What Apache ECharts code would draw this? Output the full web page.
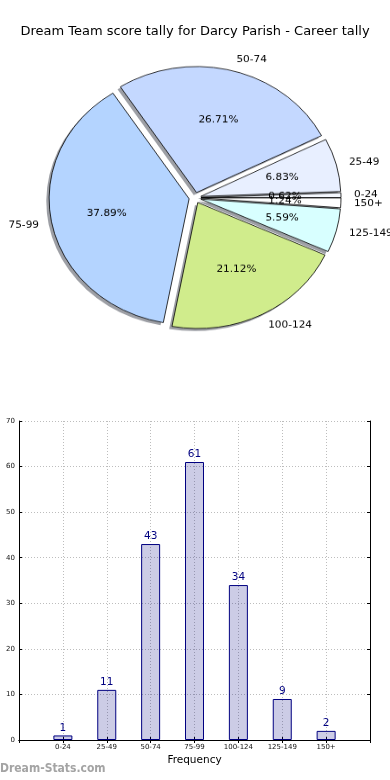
<!DOCTYPE html>
<html><head><meta charset="utf-8">
<script src="https://cdn.jsdelivr.net/npm/echarts@6.0.0/dist/echarts.min.js"></script>
<style>
html,body{margin:0;padding:0;background:#fff;}
#main{position:absolute;left:0;top:0;width:390px;height:780px;}
#pie{position:absolute;left:0;top:0;width:390px;height:440px;transform:scaleY(0.9);transform-origin:0 0;}
</style></head><body>
<div id="main"></div><div id="pie"></div>
<script>
const titleText = 'Dream Team score tally for Darcy Parish - Career tally';
const categories = ['0-24', '25-49', '50-74', '75-99', '100-124', '125-149', '150+'];
const frequencies = [1, 11, 43, 61, 34, 9, 2];
const sliceColors = ['#f6f9ff', '#e8efff', '#c4d8ff', '#b4d4ff', '#d0ec8c', '#d8ffff', '#ffffff'];
const axisName = 'Frequency';
const watermark = 'Dream-Stats.com';

const FONT = 'DejaVu Sans';
const total = frequencies.reduce((a, b) => a + b, 0);

// ---------- bar chart + title ----------
const main = echarts.init(document.getElementById('main'), null, {renderer: 'canvas'});
const xCats = [''].concat(categories, ['']);
const barData = ['-'].concat(frequencies, ['-']);
main.setOption({
  backgroundColor: '#fff',
  animation: false,
  title: {text: titleText, left: 'center', top: 20,
    textStyle: {fontFamily: FONT, fontSize: 13, fontWeight: 'normal', color: '#000'}},
  grid: {left: 19, top: 421, width: 351, height: 319, containLabel: false},
  xAxis: [{
    type: 'category', data: xCats, boundaryGap: false, position: 'bottom',
    axisLine: {lineStyle: {color: '#000', width: 1}},
    axisTick: {inside: true, length: 3, interval: 0, lineStyle: {color: '#000'}},
    axisLabel: {interval: 0, fontSize: 7, color: '#111', margin: 4, fontFamily: FONT},
    splitLine: {show: true, interval: 0, lineStyle: {color: '#bdbdbd', width: 1, type: [1, 2]}},
    name: axisName, nameLocation: 'middle', nameGap: 15,
    nameTextStyle: {fontSize: 10.5, color: '#000', fontFamily: FONT}
  }, {
    type: 'category', data: xCats, boundaryGap: false, position: 'top',
    axisLine: {lineStyle: {color: '#000', width: 1}},
    axisTick: {inside: true, length: 3, interval: 0, lineStyle: {color: '#000'}},
    axisLabel: {show: false}, splitLine: {show: false}
  }],
  yAxis: [{
    type: 'value', min: 0, max: 70, interval: 10, position: 'left',
    axisLine: {show: true, lineStyle: {color: '#000', width: 1}},
    axisTick: {show: true, inside: true, length: 3, lineStyle: {color: '#000'}},
    axisLabel: {fontSize: 7, color: '#111', margin: 4, fontFamily: FONT},
    splitLine: {show: true, lineStyle: {color: '#bdbdbd', width: 1, type: [1, 2]}}
  }, {
    type: 'value', min: 0, max: 70, interval: 10, position: 'right',
    axisLine: {show: true, lineStyle: {color: '#000', width: 1}},
    axisTick: {show: true, inside: true, length: 3, lineStyle: {color: '#000'}},
    axisLabel: {show: false}, splitLine: {show: false}
  }],
  series: [{
    type: 'bar', data: barData, barWidth: 19, xAxisIndex: 0, yAxisIndex: 0,
    itemStyle: {color: 'rgba(0,0,128,0.2)', borderColor: '#000080', borderWidth: 1},
    label: {show: true, position: 'top', distance: 2, color: '#000080', fontSize: 10.5, fontFamily: FONT}
  }],
  graphic: [{type: 'text', left: 0, top: 763,
    style: {text: watermark, fill: '#a4a4a4', font: 'bold 12px "DejaVu Sans Condensed", "DejaVu Sans"'}}]
});

// ---------- pie chart (drawn in a vertically squashed layer => elliptical) ----------
const pie = echarts.init(document.getElementById('pie'), null, {renderer: 'canvas'});
const cx = 195, cy = 219.7, R = 140, OFF = 6, SH = 2.8;
function pieData(colorFn) {
  return categories.map((c, i) => ({name: c, value: frequencies[i], selected: true,
    itemStyle: {color: colorFn(i)}, select: {itemStyle: {color: colorFn(i)}}}));
}
const common = {type: 'pie', startAngle: 0, clockwise: false, selectedMode: 'multiple',
  selectedOffset: OFF, avoidLabelOverlap: false, silent: true, animation: false,
  minShowLabelAngle: 0, labelLayout: {hideOverlap: false},
  emphasis: {disabled: true}};
pie.setOption({
  animation: false,
  series: [
    Object.assign({}, common, {
      center: [cx - SH, cy + SH], radius: [0, R],
      data: pieData(() => 'rgba(60,64,75,0.5)'),
      itemStyle: {borderWidth: 0}, select: {itemStyle: {borderWidth: 0}},
      label: {show: false}, labelLine: {show: false}, z: 1
    }),
    Object.assign({}, common, {
      center: [cx, cy], radius: [0, R],
      data: pieData(i => sliceColors[i]),
      itemStyle: {borderColor: '#000', borderWidth: 0.8},
      select: {itemStyle: {borderColor: '#000', borderWidth: 0.8}},
      label: {show: true, position: 'outside', formatter: '{b}', fontSize: 10.5, color: '#000',
        fontFamily: FONT, distanceToLabelLine: 0, padding: [4, 0, 0, 0]},
      labelLine: {show: false, length: 13, length2: 0}, z: 2
    }),
    Object.assign({}, common, {
      center: [cx, cy], radius: [22, R],
      data: pieData(() => 'rgba(0,0,0,0)'),
      itemStyle: {borderWidth: 0}, select: {itemStyle: {borderWidth: 0}},
      label: {show: true, position: 'inside', fontSize: 10.5, color: '#000', fontFamily: FONT,
        padding: [4, 0, 0, 0], formatter: p => (p.value / total * 100).toFixed(2) + '%'},
      labelLine: {show: false}, z: 3
    })
  ]
});
</script></body></html>
